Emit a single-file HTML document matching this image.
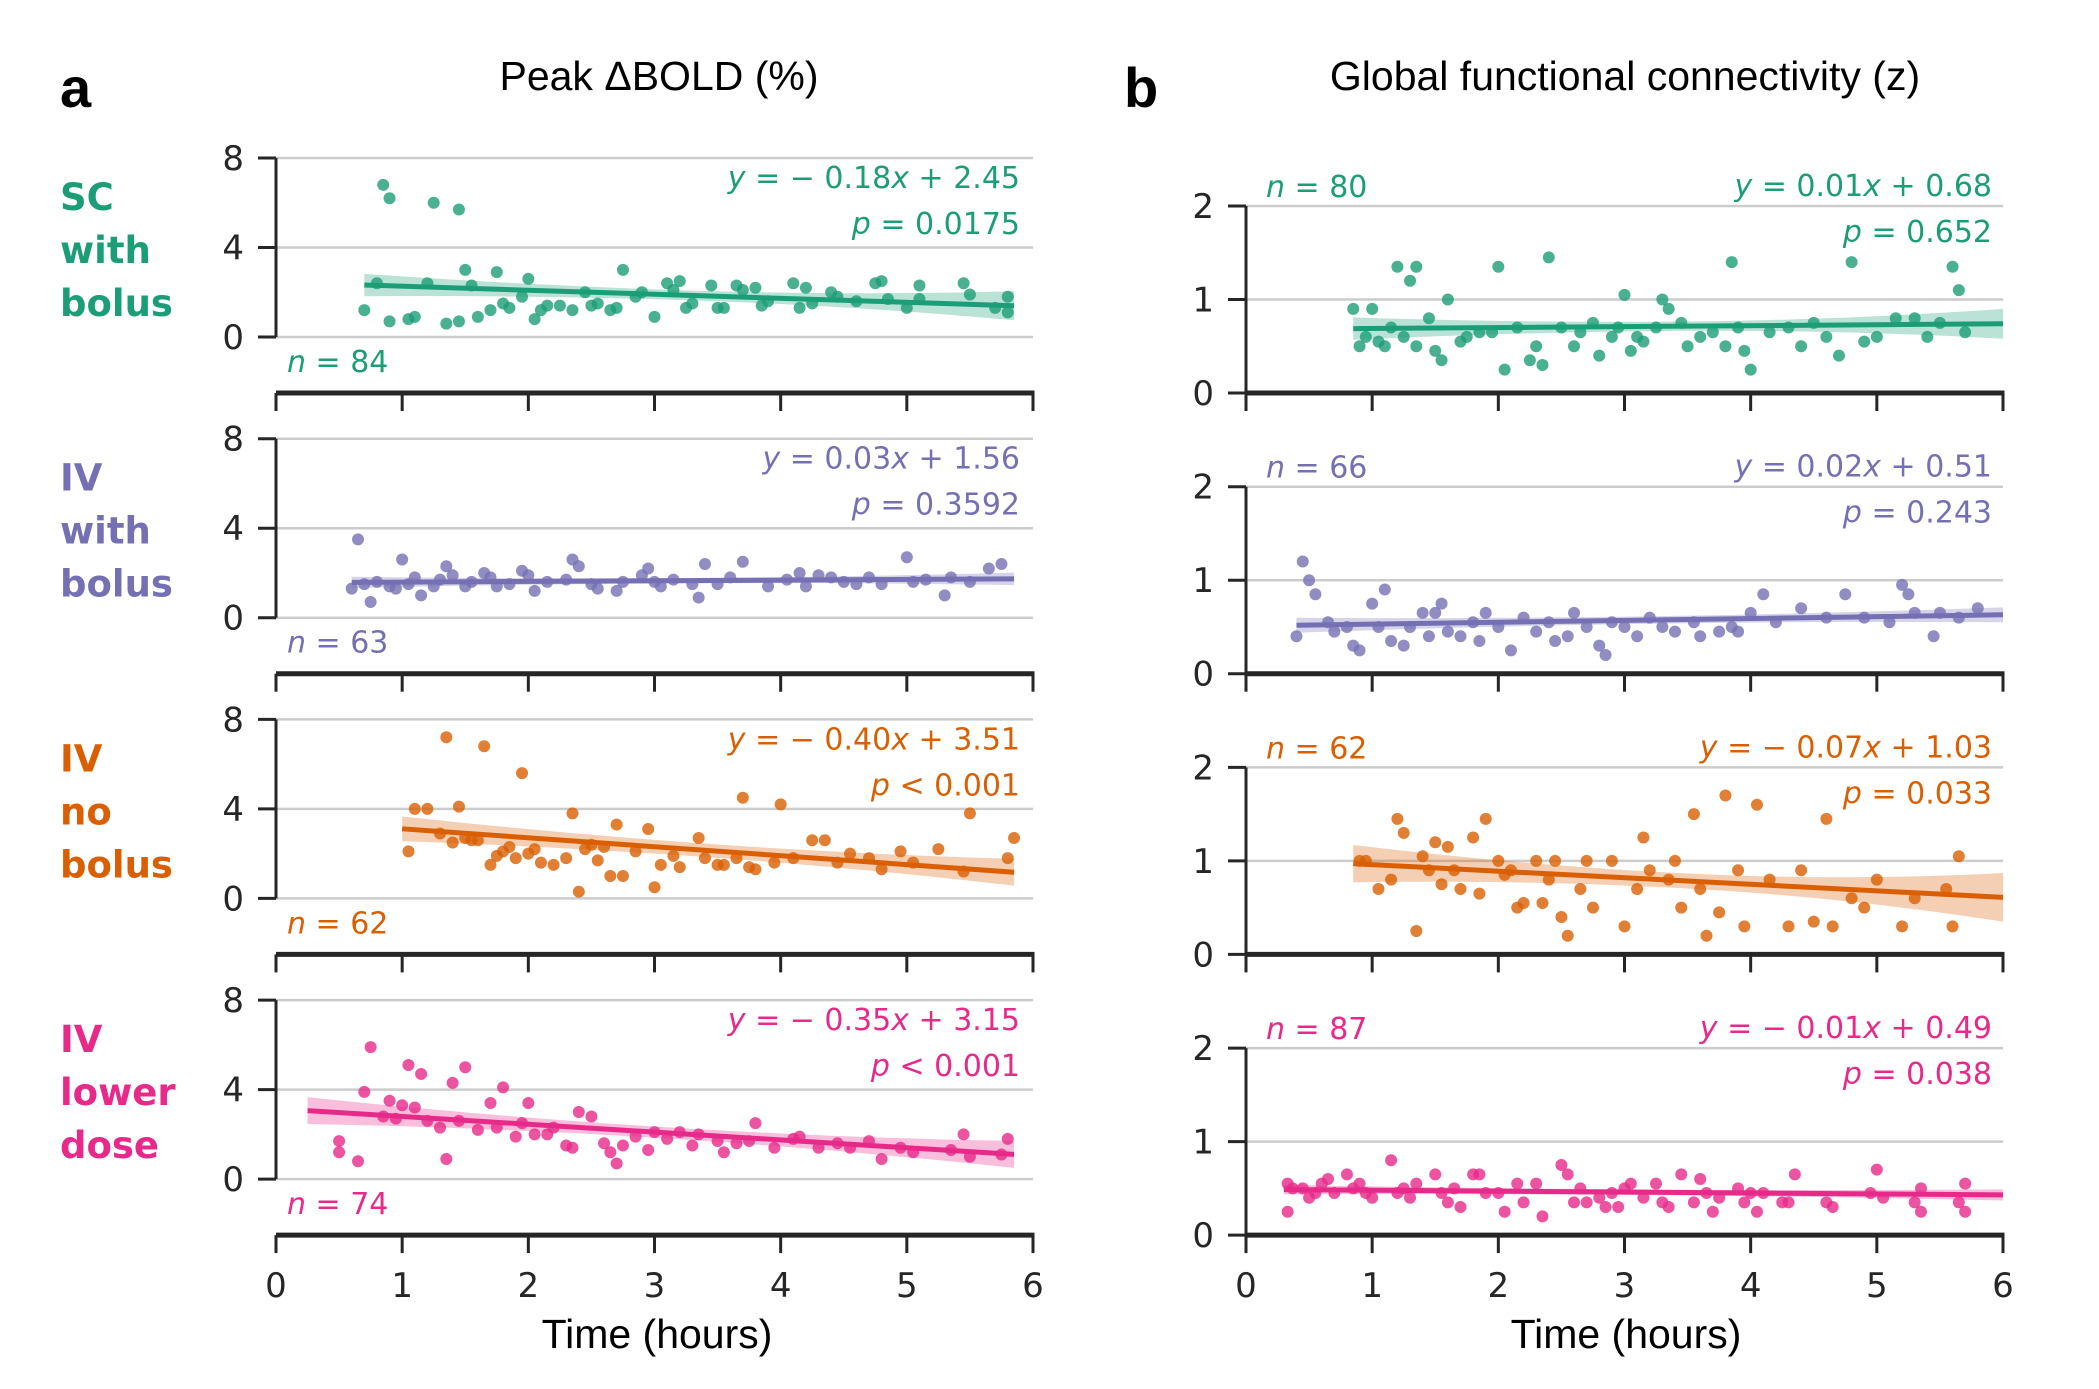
<!DOCTYPE html>
<html><head><meta charset="utf-8">
<style>
html,body{margin:0;padding:0;background:#fff;}
svg{display:block;}
.tick{font-family:"DejaVu Sans","Liberation Sans",sans-serif;font-size:34px;fill:#262626;}
.ann{font-family:"DejaVu Sans","Liberation Sans",sans-serif;font-size:30px;}
.row{font-family:"DejaVu Sans","Liberation Sans",sans-serif;font-size:37px;font-weight:bold;}
.title{font-family:"Liberation Sans",sans-serif;font-size:41px;fill:#000;}
</style></head>
<body>
<svg id="fig" width="2099" height="1389" viewBox="0 0 2099 1389" xmlns="http://www.w3.org/2000/svg">
<text class="title" x="60" y="107" style="font-size:56px;font-weight:bold">a</text>
<text class="title" x="1124" y="107" style="font-size:56px;font-weight:bold">b</text>
<text class="title" x="659" y="90" text-anchor="middle">Peak ΔBOLD (%)</text>
<text class="title" x="1625" y="90" text-anchor="middle">Global functional connectivity (z)</text>
<text class="title" x="657" y="1348" text-anchor="middle" style="font-size:41px">Time (hours)</text>
<text class="title" x="1626" y="1348" text-anchor="middle" style="font-size:41px">Time (hours)</text>
</svg>
<script>
const groupNames = ["sc-with-bolus","iv-with-bolus","iv-no-bolus","iv-lower-dose"];
const groupLabels = [["SC","with","bolus"],["IV","with","bolus"],["IV","no","bolus"],["IV","lower","dose"]];
const groupColors = ["#1b9e77","#7570b3","#d95f02","#e7298a"];
const xTicks = [0,1,2,3,4,5,6];
const boldTicks = [0,4,8];
const fcTicks = [0,1,2];

const boldSlope = [-0.18,0.03,-0.40,-0.35];
const boldIntercept = [2.45,1.56,3.51,3.15];
const boldEq = [["\u2212 0.18","2.45"],["0.03","1.56"],["\u2212 0.40","3.51"],["\u2212 0.35","3.15"]];
const boldP = ["= 0.0175","= 0.3592","< 0.001","< 0.001"];
const boldN = [84,63,62,74];
const boldLineRange = [[0.7,5.85],[0.6,5.85],[1.0,5.85],[0.25,5.85]];
const boldCI = [[0.5,0.22,0.65],[0.25,0.12,0.28],[0.55,0.3,0.6],[0.6,0.25,0.6]];

const fcSlope = [0.01,0.02,-0.07,-0.01];
const fcIntercept = [0.68,0.51,1.03,0.49];
const fcEq = [["0.01","0.68"],["0.02","0.51"],["\u2212 0.07","1.03"],["\u2212 0.01","0.49"]];
const fcP = ["= 0.652","= 0.243","= 0.033","= 0.038"];
const fcN = [80,66,62,87];
const fcLineRange = [[0.85,6.0],[0.4,6.0],[0.85,6.0],[0.3,6.0]];
const fcCI = [[0.12,0.05,0.16],[0.08,0.04,0.08],[0.2,0.08,0.26],[0.05,0.03,0.06]];

const boldPts0 = [[0.7,1.2],[0.8,2.4],[0.85,6.8],[0.9,6.2],[0.9,0.7],[1.05,0.8],[1.1,0.9],[1.2,2.4],[1.25,6.0],[1.35,0.6],[1.45,5.7],[1.45,0.7],[1.5,3.0],[1.55,2.3],[1.6,0.9],[1.7,1.2],[1.75,2.9],[1.8,1.5],[1.85,1.3],[1.95,1.8],[2.0,2.6],[2.05,0.8],[2.1,1.2],[2.15,1.4],[2.25,1.4],[2.35,1.2],[2.45,2.0],[2.5,1.4],[2.55,1.5],[2.65,1.2],[2.7,1.3],[2.75,3.0],[2.85,1.8],[2.9,2.0],[3.0,0.9],[3.1,2.4],[3.15,2.1],[3.2,2.5],[3.25,1.3],[3.3,1.5],[3.45,2.3],[3.5,1.3],[3.55,1.3],[3.65,2.3],[3.7,2.1],[3.8,2.2],[3.85,1.4],[3.9,1.6],[4.1,2.4],[4.15,1.3],[4.2,2.2],[4.25,1.5],[4.4,2.0],[4.45,1.8],[4.6,1.6],[4.75,2.4],[4.8,2.5],[4.85,1.7],[5.0,1.3],[5.1,2.3],[5.1,1.7],[5.45,2.4],[5.5,1.9],[5.7,1.3],[5.8,1.8],[5.8,1.1]];
const boldPts1 = [[0.6,1.3],[0.65,3.5],[0.7,1.5],[0.75,0.7],[0.8,1.6],[0.9,1.4],[0.95,1.3],[1.0,2.6],[1.05,1.5],[1.1,1.8],[1.15,1.0],[1.25,1.4],[1.3,1.7],[1.35,2.3],[1.4,1.9],[1.5,1.4],[1.55,1.6],[1.65,2.0],[1.7,1.8],[1.75,1.4],[1.85,1.5],[1.95,2.1],[2.0,1.9],[2.05,1.2],[2.15,1.6],[2.3,1.7],[2.35,2.6],[2.4,2.3],[2.5,1.5],[2.55,1.3],[2.7,1.2],[2.75,1.6],[2.9,1.9],[2.95,2.2],[3.0,1.6],[3.05,1.4],[3.15,1.7],[3.3,1.5],[3.35,0.9],[3.4,2.4],[3.5,1.5],[3.6,1.8],[3.7,2.5],[3.9,1.4],[4.05,1.7],[4.15,2.0],[4.2,1.4],[4.3,1.9],[4.4,1.8],[4.5,1.6],[4.6,1.5],[4.7,1.8],[4.8,1.5],[5.0,2.7],[5.05,1.6],[5.15,1.7],[5.3,1.0],[5.35,1.8],[5.5,1.6],[5.65,2.2],[5.75,2.4]];
const boldPts2 = [[1.05,2.1],[1.1,4.0],[1.2,4.0],[1.3,2.9],[1.35,7.2],[1.4,2.5],[1.45,4.1],[1.5,2.7],[1.55,2.6],[1.6,2.6],[1.65,6.8],[1.7,1.5],[1.75,1.9],[1.8,2.1],[1.85,2.3],[1.9,1.8],[1.95,5.6],[2.0,2.0],[2.05,2.2],[2.1,1.6],[2.2,1.5],[2.3,1.8],[2.35,3.8],[2.4,0.3],[2.45,2.2],[2.5,2.4],[2.55,1.7],[2.6,2.3],[2.65,1.0],[2.7,3.3],[2.75,1.0],[2.85,2.1],[2.95,3.1],[3.0,0.5],[3.05,1.5],[3.15,1.9],[3.2,1.4],[3.35,2.7],[3.4,1.8],[3.5,1.5],[3.55,1.5],[3.65,1.8],[3.7,4.5],[3.75,1.4],[3.8,1.3],[3.95,1.6],[4.0,4.2],[4.1,1.8],[4.25,2.6],[4.35,2.6],[4.45,1.6],[4.55,2.0],[4.7,1.8],[4.8,1.3],[4.95,2.1],[5.05,1.6],[5.25,2.2],[5.45,1.2],[5.5,3.8],[5.8,1.8],[5.85,2.7]];
const boldPts3 = [[0.5,1.7],[0.5,1.2],[0.65,0.8],[0.7,3.9],[0.75,5.9],[0.85,2.8],[0.9,3.5],[0.95,2.7],[1.0,3.3],[1.05,5.1],[1.1,3.2],[1.15,4.7],[1.2,2.6],[1.3,2.3],[1.35,0.9],[1.4,4.3],[1.45,2.6],[1.5,5.0],[1.6,2.2],[1.7,3.4],[1.75,2.3],[1.8,4.1],[1.9,1.9],[1.95,2.5],[2.0,3.4],[2.05,2.0],[2.15,2.0],[2.2,2.3],[2.3,1.5],[2.35,1.4],[2.4,3.0],[2.5,2.8],[2.6,1.6],[2.65,1.2],[2.7,0.7],[2.75,1.5],[2.85,1.9],[2.95,1.3],[3.0,2.1],[3.1,1.8],[3.2,2.1],[3.3,1.5],[3.35,2.0],[3.5,1.7],[3.55,1.2],[3.65,1.6],[3.75,1.7],[3.8,2.5],[3.95,1.4],[4.1,1.8],[4.15,1.9],[4.3,1.4],[4.45,1.6],[4.55,1.4],[4.7,1.7],[4.8,0.9],[4.95,1.4],[5.05,1.2],[5.35,1.3],[5.45,2.0],[5.5,1.0],[5.75,1.1],[5.8,1.8]];

const fcPts0 = [[0.85,0.9],[0.9,0.5],[0.95,0.6],[1.0,0.9],[1.05,0.55],[1.1,0.5],[1.15,0.7],[1.2,1.35],[1.25,0.6],[1.3,1.2],[1.35,1.35],[1.35,0.5],[1.45,0.8],[1.5,0.45],[1.55,0.35],[1.6,1.0],[1.7,0.55],[1.75,0.6],[1.85,0.65],[1.95,0.65],[2.0,1.35],[2.05,0.25],[2.15,0.7],[2.25,0.35],[2.3,0.5],[2.35,0.3],[2.4,1.45],[2.5,0.7],[2.6,0.5],[2.65,0.65],[2.75,0.75],[2.8,0.4],[2.9,0.6],[2.95,0.7],[3.0,1.05],[3.05,0.45],[3.1,0.6],[3.15,0.55],[3.25,0.7],[3.3,1.0],[3.35,0.9],[3.45,0.75],[3.5,0.5],[3.6,0.6],[3.7,0.65],[3.8,0.5],[3.85,1.4],[3.9,0.7],[3.95,0.45],[4.0,0.25],[4.15,0.65],[4.3,0.7],[4.4,0.5],[4.5,0.75],[4.6,0.6],[4.7,0.4],[4.8,1.4],[4.9,0.55],[5.0,0.6],[5.15,0.8],[5.3,0.8],[5.4,0.6],[5.5,0.75],[5.6,1.35],[5.65,1.1],[5.7,0.65]];
const fcPts1 = [[0.4,0.4],[0.45,1.2],[0.5,1.0],[0.55,0.85],[0.65,0.55],[0.7,0.45],[0.8,0.5],[0.85,0.3],[0.9,0.25],[1.0,0.75],[1.05,0.5],[1.1,0.9],[1.15,0.35],[1.25,0.3],[1.3,0.5],[1.4,0.65],[1.45,0.4],[1.5,0.65],[1.55,0.75],[1.6,0.45],[1.7,0.4],[1.8,0.55],[1.85,0.35],[1.9,0.65],[2.0,0.5],[2.1,0.25],[2.2,0.6],[2.3,0.45],[2.4,0.55],[2.45,0.35],[2.55,0.4],[2.6,0.65],[2.7,0.5],[2.8,0.3],[2.85,0.2],[2.9,0.55],[3.0,0.5],[3.1,0.4],[3.2,0.6],[3.3,0.5],[3.4,0.45],[3.55,0.55],[3.6,0.4],[3.75,0.45],[3.85,0.5],[3.9,0.45],[4.0,0.65],[4.1,0.85],[4.2,0.55],[4.4,0.7],[4.6,0.6],[4.75,0.85],[4.9,0.6],[5.1,0.55],[5.2,0.95],[5.25,0.85],[5.3,0.65],[5.45,0.4],[5.5,0.65],[5.65,0.6],[5.8,0.7]];
const fcPts2 = [[0.9,1.0],[0.95,1.0],[1.05,0.7],[1.15,0.8],[1.2,1.45],[1.25,1.3],[1.35,0.25],[1.4,1.05],[1.45,0.9],[1.5,1.2],[1.55,0.75],[1.6,1.15],[1.65,0.9],[1.7,0.7],[1.8,1.25],[1.85,0.65],[1.9,1.45],[2.0,1.0],[2.05,0.85],[2.1,0.9],[2.15,0.5],[2.2,0.55],[2.3,1.0],[2.35,0.55],[2.4,0.8],[2.45,1.0],[2.5,0.4],[2.55,0.2],[2.65,0.7],[2.7,1.0],[2.75,0.5],[2.9,1.0],[3.0,0.3],[3.1,0.7],[3.15,1.25],[3.2,0.9],[3.35,0.8],[3.4,1.0],[3.45,0.5],[3.55,1.5],[3.6,0.7],[3.65,0.2],[3.75,0.45],[3.8,1.7],[3.9,0.9],[3.95,0.3],[4.05,1.6],[4.15,0.8],[4.3,0.3],[4.4,0.9],[4.5,0.35],[4.6,1.45],[4.65,0.3],[4.8,0.6],[4.9,0.5],[5.0,0.8],[5.2,0.3],[5.3,0.6],[5.55,0.7],[5.6,0.3],[5.65,1.05]];
const fcPts3 = [[0.33,0.55],[0.33,0.25],[0.37,0.5],[0.45,0.5],[0.5,0.4],[0.55,0.45],[0.6,0.55],[0.65,0.6],[0.7,0.45],[0.8,0.65],[0.85,0.5],[0.9,0.55],[0.95,0.45],[1.0,0.4],[1.15,0.8],[1.2,0.45],[1.25,0.5],[1.3,0.4],[1.35,0.55],[1.5,0.65],[1.55,0.45],[1.6,0.35],[1.65,0.5],[1.7,0.3],[1.8,0.65],[1.85,0.65],[1.9,0.45],[2.0,0.45],[2.05,0.25],[2.15,0.55],[2.2,0.35],[2.3,0.55],[2.35,0.2],[2.5,0.75],[2.55,0.65],[2.6,0.35],[2.65,0.5],[2.7,0.35],[2.8,0.4],[2.85,0.3],[2.9,0.45],[2.95,0.3],[3.0,0.5],[3.05,0.55],[3.15,0.4],[3.25,0.55],[3.3,0.35],[3.35,0.3],[3.45,0.65],[3.55,0.35],[3.6,0.6],[3.65,0.45],[3.7,0.25],[3.75,0.4],[3.9,0.5],[3.95,0.35],[4.0,0.45],[4.05,0.25],[4.1,0.45],[4.25,0.35],[4.3,0.35],[4.35,0.65],[4.6,0.35],[4.65,0.3],[4.95,0.45],[5.0,0.7],[5.05,0.4],[5.3,0.35],[5.35,0.5],[5.35,0.25],[5.65,0.35],[5.7,0.55],[5.7,0.25]];

const boldPts = [boldPts0,boldPts1,boldPts2,boldPts3];
const fcPts = [fcPts0,fcPts1,fcPts2,fcPts3];

const NS = "http://www.w3.org/2000/svg";
const svg = document.getElementById('fig');
const ROW = 280.7;
function mk(tag, attrs, parent){
  const e = document.createElementNS(NS, tag);
  for (const k in attrs) e.setAttribute(k, attrs[k]);
  (parent||svg).appendChild(e);
  return e;
}
function span(parent, txt, italic){
  const s = mk('tspan', italic ? {'font-style':'italic'} : {}, parent);
  s.textContent = txt;
  return s;
}
function panel(side, i){
  const isA = side === 'a';
  const x0 = isA ? 276 : 1246, x1 = isA ? 1033 : 2003;
  const yTop = isA ? 158 + ROW*i : 206 + ROW*i;
  const yBot = isA ? 337 + ROW*i : 393 + ROW*i;
  const spineY = isA ? 393 + ROW*i : yBot;
  const ymax = isA ? 8 : 2;
  const ticks = isA ? boldTicks : fcTicks;
  const sx = v => x0 + (x1-x0)*v/6;
  const sy = v => yBot - (yBot-yTop)*v/ymax;
  const col = groupColors[i];
  const g = mk('g', {});
  
  
  ticks.forEach(t => {
    const l = mk('line', {x1:sx(0), x2:x1, y1:sy(t), y2:sy(t), stroke:'#cccccc', 'stroke-width':2.5}, g);
    
    
  });
  const slope = isA ? boldSlope[i] : fcSlope[i];
  const icp = isA ? boldIntercept[i] : fcIntercept[i];
  const rng = isA ? boldLineRange[i] : fcLineRange[i];
  const ci = isA ? boldCI[i] : fcCI[i];
  const up = [], lo = [];
  const N = 30;
  for (let k=0;k<=N;k++){
    const x = rng[0] + (rng[1]-rng[0])*k/N;
    const t = 2*k/N - 1;
    const hw = t<0 ? ci[1] + (ci[0]-ci[1])*t*t : ci[1] + (ci[2]-ci[1])*t*t;
    const yv = slope*x + icp;
    up.push(sx(x)+','+sy(yv+hw));
    lo.unshift(sx(x)+','+sy(yv-hw));
  }
  const band = mk('polygon', {points: up.concat(lo).join(' '), fill: col, 'fill-opacity':0.3}, g);
  
  
  const pts = isA ? boldPts[i] : fcPts[i];
  pts.forEach(p => {
    const c = mk('circle', {cx:sx(p[0]), cy:sy(p[1]), r:6, fill: col, 'fill-opacity':0.8}, g);
    
    
  });
  const rl = mk('line', {x1:sx(rng[0]), y1:sy(slope*rng[0]+icp), x2:sx(rng[1]), y2:sy(slope*rng[1]+icp), stroke: col, 'stroke-width':5}, g);
  
  
  const ys = mk('line', {x1:x0, x2:x0, y1:yTop, y2:yBot, stroke:'#262626', 'stroke-width':3}, g);
  
  
  ticks.forEach(t => {
    const tl = mk('line', {x1:x0-18, x2:x0, y1:sy(t), y2:sy(t), stroke:'#262626', 'stroke-width':3}, g);
    
    
    const tx = mk('text', {x:x0-32, y:sy(t)+12, 'text-anchor':'end', class:'tick'}, g);
    tx.textContent = t;
    
    
  });
  const xs = mk('line', {x1:x0, x2:x1+1.5, y1:spineY, y2:spineY, stroke:'#262626', 'stroke-width':5}, g);
  
  
  xTicks.forEach(t => {
    const tl = mk('line', {x1:sx(t), x2:sx(t), y1:spineY, y2:spineY+18, stroke:'#262626', 'stroke-width':3}, g);
    
    
    if (i === 3){
      const tx = mk('text', {x:sx(t), y:spineY+62, 'text-anchor':'middle', class:'tick'}, g);
      tx.textContent = t;
      
      
    }
  });
  const eqX = isA ? 1020 : 1992;
  const eqY = isA ? 188 + ROW*i : 196 + ROW*i;
  const e = isA ? boldEq[i] : fcEq[i];
  const eq = mk('text', {x:eqX, y:eqY, 'text-anchor':'end', class:'ann', fill: col}, g);
  span(eq, 'y', true); span(eq, ' = ' + e[0], false); span(eq, 'x', true); span(eq, ' + ' + e[1], false);
  
  
  const pv = mk('text', {x:eqX, y:eqY+46, 'text-anchor':'end', class:'ann', fill: col}, g);
  span(pv, 'p', true); span(pv, ' ' + (isA ? boldP[i] : fcP[i]), false);
  
  
  const nx = isA ? 287 : 1266;
  const ny = isA ? 372 + ROW*i : 197 + ROW*i;
  const nt = mk('text', {x:nx, y:ny, class:'ann', fill: col}, g);
  span(nt, 'n', true); span(nt, ' = ' + (isA ? boldN[i] : fcN[i]), false);
  
  
  if (isA){
    groupLabels[i].forEach((w, k) => {
      const rt = mk('text', {x:60, y:210 + ROW*i + 53*k, class:'row', fill: col}, g);
      rt.textContent = w;
      
      
    });
  }
}
for (let i=0;i<4;i++){ panel('a', i); panel('b', i); }
</script>
</body></html>
